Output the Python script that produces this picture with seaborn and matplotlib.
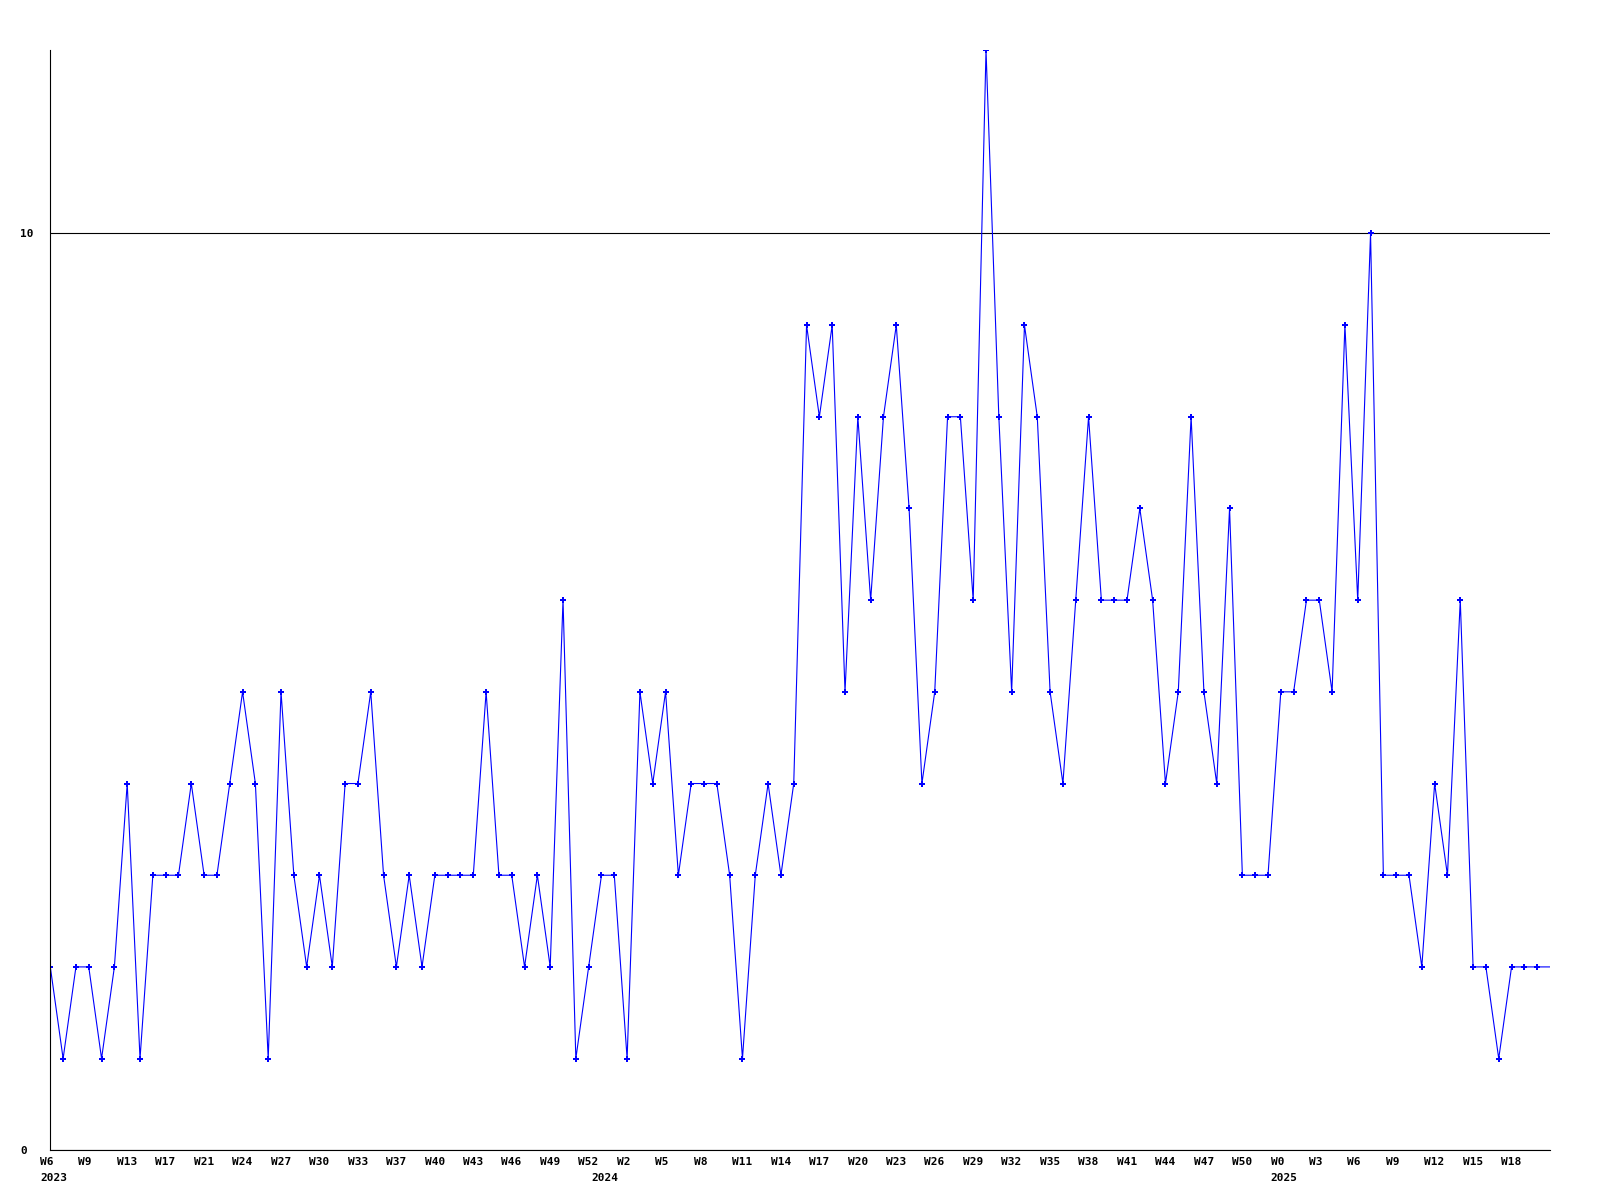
import numpy as np
import pandas as pd
import matplotlib
matplotlib.use("Agg")
import matplotlib.pyplot as plt
import matplotlib.transforms as mtransforms
import seaborn as sns

# weekly counts, first point is W6 2023
counts = [2, 1, 2, 2, 1, 2, 4, 1, 3, 3, 3, 4, 3, 3, 4, 5, 4, 1, 5, 3,
          2, 3, 2, 4, 4, 5, 3, 2, 3, 2, 3, 3, 3, 3, 5, 3, 3, 2, 3,
          2, 6, 1, 2, 3, 3, 1, 5, 4, 5, 3, 4, 4, 4, 3, 1, 3, 4, 3, 4,
          9, 8, 9, 5, 8, 6, 8, 9, 7, 4, 5, 8, 8, 6, 12, 8, 5, 9, 8, 5,
          4, 6, 8, 6,
          6, 6, 7, 6, 4, 5, 8, 5, 4, 7, 3, 3, 3, 5, 5, 6, 6, 5, 9, 6,
          10, 3, 3, 3, 2, 4, 3, 6, 2, 2, 1, 2, 2, 2, 2]

week_labels = ["W6", "W9", "W13", "W17", "W21", "W24", "W27", "W30", "W33",
               "W37", "W40", "W43", "W46", "W49", "W52", "W2", "W5", "W8",
               "W11", "W14", "W17", "W20", "W23", "W26", "W29", "W32", "W35",
               "W38", "W41", "W44", "W47", "W50", "W0", "W3", "W6", "W9",
               "W12", "W15", "W18"]
years = ["2023", "2024", "2025"]
year_at = [-0.8, 42.2, 95.2]
y_ticks = [0, 10]

sns.set_style("white")
plt.rcParams["font.family"] = ["DejaVu Sans Mono"]
plt.rcParams["font.weight"] = "bold"
plt.rcParams["font.size"] = 8
plt.rcParams["text.color"] = "black"
plt.rcParams["xtick.color"] = "black"
plt.rcParams["ytick.color"] = "black"

df = pd.DataFrame({"week": np.arange(len(counts)), "count": counts})

fig = plt.figure(figsize=(16, 12), dpi=100)
ax = fig.add_axes([50.3 / 1600, 1 - 1150.3 / 1200, 1499.7 / 1600, 1100.3 / 1200])

sns.lineplot(data=df, x="week", y="count", ax=ax, color="#0000ff", linewidth=0.8,
             marker="P", markersize=5, markeredgewidth=0, markevery=list(range(len(counts) - 1)))

ax.set_xlim(0, len(counts) - 1)
ax.set_ylim(0, 12)
ax.set_xlabel("")
ax.set_ylabel("")

for side in ["top", "right"]:
    ax.spines[side].set_visible(False)
for side in ["left", "bottom"]:
    ax.spines[side].set_color("black")
    ax.spines[side].set_linewidth(0.8)

ax.set_yticks(y_ticks)
ax.set_yticklabels([str(t) for t in y_ticks])
ax.yaxis.grid(True, color="black", linewidth=0.8)
ax.tick_params(axis="y", length=0, pad=21.8)
for lbl in ax.get_yticklabels():
    lbl.set_ha("left")

ax.set_xticks(np.arange(len(week_labels)) * 3)
ax.set_xticklabels(week_labels)
ax.tick_params(axis="x", length=0, pad=5)
shift = mtransforms.ScaledTranslation(-10.3 / 100, 0, fig.dpi_scale_trans)
for lbl in ax.get_xticklabels():
    lbl.set_ha("left")
    lbl.set_transform(lbl.get_transform() + shift)

for yr, pos in zip(years, year_at):
    ax.text(pos, -0.021, yr, transform=ax.get_xaxis_transform(),
            ha="left", va="top", fontsize=8, fontweight="bold")

fig.savefig("out.png", dpi=100)
